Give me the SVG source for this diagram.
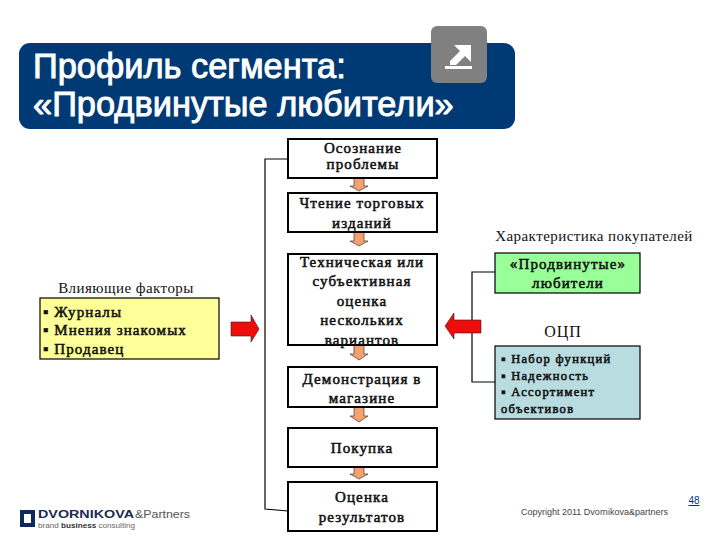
<svg xmlns="http://www.w3.org/2000/svg" width="720" height="540" viewBox="0 0 720 540">
<style>
.t{font-family:"Liberation Serif","Times New Roman",serif;font-size:15px;fill:#111;text-anchor:middle;letter-spacing:.45px}
.b{stroke:#111;stroke-width:.55;letter-spacing:1.1px}
.l{text-anchor:start}
.s{font-size:12.5px;letter-spacing:1.3px}
.box{fill:#fff;stroke:#000;stroke-width:2}
.c{fill:none;stroke:#000;stroke-width:1.2}
.h{font-family:"Liberation Sans",Arial,sans-serif;font-size:34.4px;fill:#fff;stroke:#fff;stroke-width:.9}
.oa{fill:#f4a070;stroke:#222;stroke-width:.6}
.ra{fill:#ee0c0c;stroke:#222;stroke-width:.6}
.f{font-family:"Liberation Sans",Arial,sans-serif}
</style>
<rect width="720" height="540" fill="#fff"/>
<g id="banner">
<rect x="19" y="43" width="496" height="86" rx="11" fill="#003a75"/>
<text class="h" x="33" y="78">Профиль сегмента:</text>
<text class="h" x="33" y="116">«Продвинутые любители»</text>
</g>
<g id="icon">
<rect x="431" y="26" width="56" height="57" rx="6" fill="#808080"/>
<path d="M449 45H471V62L465 56L456 65H450L450 61L460 51L454 45Z" fill="#fff"/>
<rect x="445" y="66" width="27" height="3" fill="#fff"/>
</g>
<g id="connectors">
<path class="c" d="M288 159H265V509L288 511"/>
<path class="c" d="M495 272H472V382H495"/>
<path class="oa" d="M354 178H364V186H368L359 191L350 186H354Z"/>
<path class="oa" d="M354 232H364V241H368L359 246L350 241H354Z"/>
<path class="oa" d="M354 345H364V354H368L359 360L350 354H354Z"/>
<path class="oa" d="M354 407H364V416H368L359 422L350 416H354Z"/>
<path class="oa" d="M354 467H364V474H368L359 479L350 474H354Z"/>
<path class="ra" d="M231 322H251V315L259 329L251 342V336H231Z"/>
<path class="ra" d="M481 320H454V313L445 326L454 339V333H481Z"/>
</g>
<g id="n1"><rect class="box" x="288" y="139" width="149" height="39"/>
<text class="t b" x="363" y="153">Осознание</text><text class="t b" x="363" y="169">проблемы</text></g>
<g id="n2"><rect class="box" x="288" y="193" width="149" height="39"/>
<text class="t b" x="362" y="208">Чтение торговых</text><text class="t b" x="362" y="228">изданий</text></g>
<g id="n3"><rect class="box" x="288" y="254" width="149" height="91"/>
<text class="t b" x="362" y="267">Техническая или</text><text class="t b" x="362" y="286">субъективная</text><text class="t b" x="362" y="306">оценка</text><text class="t b" x="362" y="325">нескольких</text><text class="t b" x="362" y="345">вариантов</text></g>
<g id="n4"><rect class="box" x="288" y="367" width="149" height="40"/>
<text class="t b" x="362" y="384">Демонстрация в</text><text class="t b" x="362" y="403">магазине</text></g>
<g id="n5"><rect class="box" x="288" y="428" width="149" height="39"/>
<text class="t b" x="362" y="453">Покупка</text></g>
<g id="n6"><rect class="box" x="288" y="482" width="149" height="49"/>
<text class="t b" x="362" y="502">Оценка</text><text class="t b" x="362" y="522">результатов</text></g>
<g id="factors">
<text class="t" x="126" y="293">Влияющие факторы</text>
<rect x="40" y="298" width="179" height="61" fill="#ffff99" stroke="#000" stroke-width="1.2"/>
<text class="t b l" x="43" y="317">▪ Журналы</text><text class="t b l" x="43" y="335">▪ Мнения знакомых</text><text class="t b l" x="43" y="354">▪ Продавец</text>
</g>
<g id="buyers">
<text class="t" x="594" y="241">Характеристика покупателей</text>
<rect x="495" y="253" width="145" height="40" fill="#99ff99" stroke="#000" stroke-width="1.2"/>
<text class="t b" x="568" y="269">«Продвинутые»</text><text class="t b" x="568" y="288">любители</text>
</g>
<g id="ocp">
<text class="t" x="563" y="337" style="font-size:16px;letter-spacing:.9px">ОЦП</text>
<rect x="495" y="346" width="145" height="73" fill="#b8dce0" stroke="#000" stroke-width="1.2"/>
<text class="t b l s" x="501" y="363">▪ Набор функций</text><text class="t b l s" x="501" y="380">▪ Надежность</text><text class="t b l s" x="501" y="396">▪ Ассортимент</text><text class="t b l s" x="501" y="413">объективов</text>
</g>
<g id="logo">
<path d="M20 510H35V527H20ZM24 514V523H31V514Z" fill="#0a2a5e" fill-rule="evenodd"/>
<text class="f" x="38" y="518" font-size="10.5" font-weight="bold" fill="#1a2a50" textLength="96" lengthAdjust="spacingAndGlyphs">DVORNIKOVA</text>
<text class="f" x="135" y="518" font-size="10.5" fill="#555" textLength="55" lengthAdjust="spacingAndGlyphs">&amp;Partners</text>
<text class="f" x="38" y="528" font-size="7.5" fill="#666" textLength="97" lengthAdjust="spacingAndGlyphs">brand <tspan font-weight="bold" fill="#333">business</tspan> consulting</text>
</g>
<g id="footer">
<text class="f" x="521" y="515" font-size="9" fill="#444">Copyright 2011 Dvornikova&amp;partners</text>
<text class="f" x="694" y="504" font-size="10" fill="#003a75" text-anchor="middle" text-decoration="underline">48</text>
</g>
</svg>
